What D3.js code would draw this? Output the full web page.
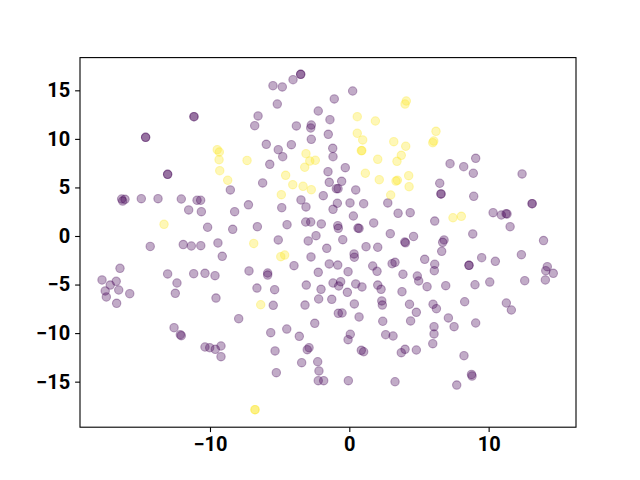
<!DOCTYPE html>
<html>
<head>
<meta charset="utf-8">
<script src="https://cdn.jsdelivr.net/npm/d3@7"></script>
<style>
	body { margin: 0; background: #fff; }
	.tick text { font-family: Roboto, "DejaVu Sans", sans-serif; font-weight: bold; font-size: 20px; fill: #000; }
</style>
</head>
<body>
<div id="chart"></div>
<script>
//points of label 0 (dark end of viridis), [x, y]
const groupA = [
	[-11.15,12.29],[-11.15,12.29],[-14.62,10.16],[-14.62,10.16],[-13.04,6.35],[-13.04,6.35],
	[-8.54,4.74],[-7.24,3.21],[-16.34,3.81],[-16.27,3.60],[-16.10,3.78],[-14.93,3.84],[-13.73,3.84],
	[-12.06,3.81],[-10.93,3.68],[-10.67,3.68],[-11.53,2.68],[-10.62,2.50],[-8.23,2.50],[-10.17,0.90],
	[-8.37,0.69],[-14.29,-1.08],[-11.92,-0.88],[-11.34,-1.03],[-10.66,-1.00],[-9.43,-0.72],[-9.12,-2.09],
	[-16.46,-3.33],[-17.75,-4.53],[-17.16,-5.05],[-16.73,-4.67],[-17.52,-5.66],[-17.44,-6.28],[-16.55,-5.56],
	[-15.76,-5.94],[-16.70,-6.93],[-13.04,-3.91],[-12.37,-4.84],[-12.49,-5.90],[-11.17,-3.88],[-10.36,-3.84],
	[-9.64,-4.09],[-9.57,-6.39],[-7.20,-3.60],[-7.94,-8.52],[-12.58,-9.44],[-12.13,-10.16],[-12.06,-10.27],
	[-10.36,-11.43],[-10.02,-11.50],[-9.62,-11.67],[-9.21,-11.33],[-9.21,-12.43],
	[-3.49,16.65],[-3.49,16.65],[-4.04,16.10],[-5.48,15.48],[-4.81,15.35],[0.24,14.93],[-1.08,14.11],
	[-5.17,13.59],[-2.23,12.87],[-6.55,12.36],[-6.79,11.36],[-3.80,11.33],[-2.73,11.43],[-2.77,11.12],
	[-1.39,11.98],[-1.51,10.47],[-2.73,9.96],[-5.96,9.44],[-4.16,9.40],[-5.10,8.89],[-4.78,8.17],
	[-5.71,7.38],[-1.19,9.03],[-1.17,8.17],[-1.53,6.62],[-0.29,7.03],[-6.22,5.46],[-1.44,5.53],
	[-0.55,5.63],[-0.93,4.87],[-0.81,4.87],[0.46,4.74],[-1.87,4.15],[-3.47,3.71],[-3.11,2.99],
	[-4.85,2.91],[-0.86,3.37],[0.05,3.40],[1.03,3.33],[-1.17,2.75],[2.76,3.40],[0.29,2.06],
	[3.50,2.34],[4.37,2.40],[-6.60,0.96],[-4.47,1.16],[-3.13,1.44],[-2.77,1.44],[-2.01,1.24],
	[-0.83,1.06],[-0.79,0.79],[0.62,0.82],[0.70,0.78],[1.75,1.34],[2.94,0.24],[4.03,-0.70],
	[3.98,-0.62],[4.61,-0.05],[-5.10,-0.41],[-2.95,-0.51],[-2.39,0.03],[-0.47,-0.38],[-1.62,-1.27],
	[1.20,-1.10],[2.04,-1.16],[0.34,-1.85],[0.36,-2.19],[-2.75,-2.16],[-3.97,-3.06],[-1.44,-2.88],
	[-0.83,-2.99],[1.68,-3.09],[1.99,-3.64],[3.07,-2.85],[3.28,-2.71],[-5.86,-3.81],[-5.86,-4.02],
	[-2.23,-3.74],[-0.09,-3.68],[3.85,-3.94],[-6.63,-5.36],[-5.36,-5.53],[-3.09,-5.05],[-2.03,-5.49],
	[-1.17,-4.84],[-0.62,-4.71],[-0.76,-5.15],[0.46,-4.94],[0.91,-5.25],[2.04,-5.05],[2.28,-5.49],
	[-0.14,-5.80],[3.78,-5.74],[-5.46,-7.14],[-3.18,-7.11],[-2.20,-6.49],[-1.26,-6.52],[0.36,-7.00],
	[2.33,-6.69],[2.37,-7.11],[4.32,-7.03],[-0.79,-7.96],[-0.52,-7.93],[0.70,-8.34],[2.40,-8.78],
	[4.40,-8.75],[-2.48,-8.99],[-5.64,-9.96],[-4.49,-9.58],[-3.59,-10.33],[0.07,-10.12],[-0.09,-10.68],
	[2.61,-10.16],[3.14,-10.30],[-5.33,-11.84],[-3.02,-11.71],[-2.89,-11.50],[0.86,-11.77],[1.03,-11.92],
	[3.73,-12.02],[4.00,-11.67],[-3.42,-13.05],[-2.27,-12.95],[-2.18,-13.90],[-5.24,-14.08],[-2.23,-14.90],
	[-1.84,-14.90],[-0.07,-14.90],[3.28,-15.01],
	[7.23,7.45],[8.21,7.14],[9.07,8.00],[8.90,6.46],[12.40,6.39],[6.49,5.43],[6.58,4.33],[6.58,4.33],
	[8.93,4.09],[6.13,1.54],[10.32,2.40],[10.91,2.16],[11.25,2.30],[11.32,2.27],[13.12,3.33],[13.12,3.33],
	[11.54,0.96],[6.80,-0.40],[6.70,-0.65],[8.86,0.21],[13.94,-0.47],[6.63,-1.58],[5.41,-2.40],
	[6.13,-2.91],[6.10,-3.57],[8.59,-3.02],[8.59,-3.02],[9.50,-2.23],[10.48,-2.61],[12.35,-1.93],
	[14.21,-3.16],[14.10,-3.57],[14.64,-3.84],[14.07,-4.53],[12.59,-4.60],[4.88,-4.12],[4.98,-4.63],
	[5.58,-5.22],[6.92,-5.12],[9.02,-5.02],[10.08,-4.74],[4.81,-7.86],[6.01,-7.03],[6.25,-7.49],
	[7.11,-8.44],[7.52,-9.34],[6.08,-9.34],[6.08,-10.09],[5.99,-11.09],[8.28,-6.77],[9.07,-8.96],
	[11.27,-6.90],[11.63,-7.62],[4.81,-11.74],[8.23,-12.33],[8.77,-14.26],[8.81,-14.42],[7.71,-15.35]
];

//points of label 1 (bright end of viridis), [x, y]
const groupB = [
	[-9.48,8.89],[-9.33,8.65],[-9.35,7.86],[-9.30,6.73],[-8.73,5.74],[-7.34,7.78],[-13.30,1.20],
	[4.09,13.90],[4.00,13.59],[0.57,12.29],[1.87,11.84],[0.57,10.58],[0.96,9.89],[0.86,8.78],
	[0.90,8.80],[-3.11,8.48],[-2.84,7.72],[-2.44,7.80],[-3.20,7.08],[3.19,9.71],[4.05,9.24],
	[3.73,8.31],[3.42,7.69],[2.04,7.90],[1.15,6.46],[2.15,5.80],[3.35,5.66],[3.45,5.74],
	[4.26,6.21],[4.29,5.08],[-4.57,6.25],[-4.06,5.28],[-3.32,5.12],[-2.73,4.77],[-4.88,4.25],
	[2.97,4.22],[-6.86,-0.77],[-4.92,-2.13],[-4.64,-1.96],[-6.36,-7.08],[-6.77,-17.89],[-6.77,-17.89],
	[6.22,10.78],[6.06,9.78],[5.99,9.61],[7.44,1.88],[8.04,2.03]
];

const xTicks = [-10, 0, 10];
const yTicks = [-15, -10, -5, 0, 5, 10, 15];
const xDomain = [-19.33, 16.27];
const yDomain = [-19.69, 18.37];
const colors = ["#440154", "#fde725"];

const width = 640, height = 480;
const margin = {top: 57.6, right: 64, bottom: 52.8, left: 80};

const svg = d3.select("#chart").append("svg")
	.attr("width", width)
	.attr("height", height);

const x = d3.scaleLinear().domain(xDomain).range([margin.left, width - margin.right]);
const y = d3.scaleLinear().domain(yDomain).range([height - margin.bottom, margin.top]);

//axes with outward ticks like matplotlib
svg.append("g")
	.attr("transform", "translate(0," + (height - margin.bottom) + ")")
	.call(d3.axisBottom(x).tickValues(xTicks).tickSize(4.9).tickPadding(5).tickFormat(d3.format("d")))
	.call(g => g.select(".domain").remove());

svg.append("g")
	.attr("transform", "translate(" + margin.left + ",0)")
	.call(d3.axisLeft(y).tickValues(yTicks).tickSize(4.9).tickPadding(5).tickFormat(d3.format("d")))
	.call(g => g.select(".domain").remove());

svg.selectAll(".tick line").attr("stroke", "#000").attr("stroke-width", 1.1);

//draws one group of points, fill and edge both translucent
function drawPoints(points, color){
	svg.append("g")
		.selectAll("circle")
		.data(points)
		.enter()
		.append("circle")
		.attr("cx", d => x(d[0]))
		.attr("cy", d => y(d[1]))
		.attr("r", 4.2)
		.attr("fill", color)
		.attr("fill-opacity", 0.33)
		.attr("stroke", color)
		.attr("stroke-opacity", 0.33)
		.attr("stroke-width", 1.1);
}

drawPoints(groupA, colors[0]);
drawPoints(groupB, colors[1]);

//frame around the plot area
svg.append("rect")
	.attr("x", margin.left)
	.attr("y", margin.top)
	.attr("width", width - margin.left - margin.right)
	.attr("height", height - margin.top - margin.bottom)
	.attr("fill", "none")
	.attr("stroke", "#000")
	.attr("stroke-width", 1.1);
</script>
</body>
</html>
